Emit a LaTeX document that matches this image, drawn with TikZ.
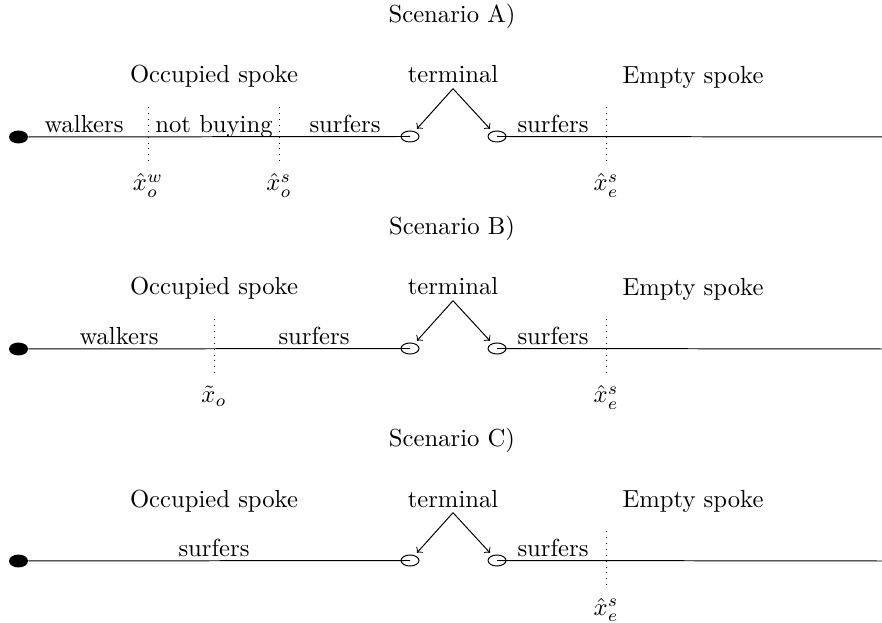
\documentclass[tikz,border=0pt]{standalone}
\usepackage{amsmath}
\usepackage{amssymb}
\usepackage{tikz}
\usetikzlibrary{positioning, shapes.geometric}

\begin{document}
\begin{tikzpicture}[
    x=0.01425cm, y=-0.01425cm,
    >=to,
    title_text/.style={anchor=base},
    head_text/.style={anchor=base, inner sep=2pt},
    seg_text/.style={anchor=base},
    marker_label/.style={anchor=base},
    spoke_end/.style={ellipse, fill=black, inner sep=0pt, minimum width=0.27cm, minimum height=0.185cm},
    stop_node/.style={ellipse, draw, inner sep=0pt, outer sep=1.5pt, minimum width=0.256cm, minimum height=0.157cm},
    marker_line/.style={dotted},
    term_arrow/.style={->}
]
    \useasboundingbox (0,0) rectangle (882,623);

    % 1. COMMON PARTS OF EVERY SCENARIO
    \foreach \s/\L in {A/137, B/349, C/561} {
        \node[title_text] (title\s) at (452, \L-114) {Scenario \s)};
        \node[head_text] (occ\s) at (214, \L-54) {Occupied spoke};
        \node[head_text] (term\s) at (453, \L-54) {terminal};
        \node[head_text] (emp\s) at (693, \L-53) {Empty spoke};

        % spoke ends and terminal stops
        \node[spoke_end] (dot\s) at (18.5, \L) {};
        \node[stop_node] (stopL\s) at (410, \L-0.5) {};
        \node[stop_node] (stopR\s) at (497, \L-0.5) {};
        \coordinate (end\s) at (882, \L);

        \draw (dot\s) -- (stopL\s.center);
        \draw (stopR\s.center) -- (end\s);
        \draw[term_arrow] (term\s.south) -- (stopL\s);
        \draw[term_arrow] (term\s.south) -- (stopR\s);

        % empty spoke: surfers and threshold
        \node[seg_text] (surfR\s) at (553, \L-4.5) {surfers};
        \coordinate (mE\s-top) at (606, \L-30);
        \coordinate (mE\s-bot) at (606, \L+28);
        \draw[marker_line] (mE\s-top) -- (mE\s-bot);
        \node[marker_label] (mE\s-lab) at (606, \L+54) {$\hat{x}_e^s$};
    }

    % 2. OCCUPIED SPOKE SEGMENTS
    \foreach \n/\xx/\L/\txt in {walkA/84/137/walkers, buyA/214/137/{not buying}, surfA/345/137/surfers,
                                walkB/119/349/walkers, surfB/314/349/surfers, surfC/214/561/surfers} {
        \node[seg_text] (\n) at (\xx, \L-4.5) {\txt};
    }

    % 3. OCCUPIED SPOKE THRESHOLDS
    \foreach \n/\xx/\L/\lab in {Aw/148/137/{$\hat{x}_o^w$}, As/279/137/{$\hat{x}_o^s$}, Bt/214/349/{$\tilde{x}_o$}} {
        \coordinate (m\n-top) at (\xx, \L-30);
        \coordinate (m\n-bot) at (\xx, \L+28);
        \draw[marker_line] (m\n-top) -- (m\n-bot);
        \node[marker_label] (m\n-lab) at (\xx, \L+54) {\lab};
    }

\end{tikzpicture}
\end{document}
